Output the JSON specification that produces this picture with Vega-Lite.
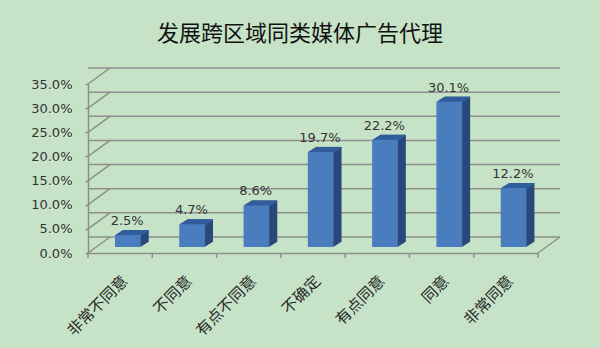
{
  "$schema": "https://vega.github.io/schema/vega-lite/v6.json",
  "autosize": {"type": "none"},
  "width": 450,
  "height": 169,
  "padding": {"left": 88, "top": 84, "right": 62, "bottom": 95},
  "background": "#C7E3C7",
  "config": {"view": {"stroke": null}},
  "title": {"text": "发展跨区域同类媒体广告代理", "font": "Noto Sans CJK SC", "fontSize": 22, "fontWeight": "normal", "color": "#111111", "anchor": "middle", "dx": -13, "offset": 21},
  "datasets": {
    "resp": [
      {"cat": "非常不同意", "v": 0.025},
      {"cat": "不同意", "v": 0.047},
      {"cat": "有点不同意", "v": 0.086},
      {"cat": "不确定", "v": 0.197},
      {"cat": "有点同意", "v": 0.222},
      {"cat": "同意", "v": 0.301},
      {"cat": "非常同意", "v": 0.122}
    ],
    "ticks": [{"t": 0}, {"t": 0.05}, {"t": 0.1}, {"t": 0.15}, {"t": 0.2}, {"t": 0.25}, {"t": 0.3}, {"t": 0.35}],
    "corner": [{"t": 0}]
  },
  "resolve": {"axis": {"y": "independent"}},
  "layer": [
    {
      "data": {"name": "ticks"},
      "mark": {"type": "rule", "color": "#8E8E8E", "strokeWidth": 1.5, "xOffset": 22, "x2Offset": 22, "yOffset": -16},
      "encoding": {
        "y": {"field": "t", "type": "quantitative", "title": null,
          "scale": {"domain": [0, 0.35], "nice": false, "zero": true},
          "axis": {"title": null, "values": [0, 0.05, 0.1, 0.15, 0.2, 0.25, 0.3, 0.35], "format": ".1%", "grid": false, "labelOverlap": false,
            "labelFont": "DejaVu Sans", "labelFontSize": 13, "labelColor": "#333333", "labelPadding": 13,
            "tickColor": "#8E8E8E", "tickSize": 3, "tickWidth": 1.5, "domainColor": "#8E8E8E", "domainWidth": 1.5}}
      }
    },
    {
      "data": {"name": "ticks"},
      "mark": {"type": "rule", "color": "#8E8E8E", "strokeWidth": 1.5, "x2Offset": 22, "y2Offset": -16},
      "encoding": {
        "x": {"value": 0},
        "x2": {"value": 0},
        "y": {"field": "t", "type": "quantitative", "title": null, "axis": null},
        "y2": {"field": "t"}
      }
    },
    {
      "data": {"name": "corner"},
      "mark": {"type": "rule", "color": "#8E8E8E", "strokeWidth": 1.5, "x2Offset": 22, "y2Offset": -16},
      "encoding": {
        "x": {"value": 450},
        "x2": {"value": 450},
        "y": {"field": "t", "type": "quantitative", "title": null, "axis": null},
        "y2": {"field": "t"}
      }
    },
    {
      "data": {"name": "corner"},
      "mark": {"type": "rule", "color": "#8E8E8E", "strokeWidth": 1.5, "y2Offset": 5},
      "encoding": {
        "x": {"value": 450},
        "y": {"field": "t", "type": "quantitative", "title": null, "axis": null},
        "y2": {"field": "t"}
      }
    },
    {
      "data": {"name": "resp"},
      "mark": {"type": "rule", "color": "#8E8E8E", "strokeWidth": 1.5, "y2Offset": 5},
      "encoding": {
        "x": {"field": "cat", "type": "nominal", "bandPosition": 0, "sort": null, "title": null,
          "scale": {"paddingInner": 0, "paddingOuter": 0},
          "axis": {"title": null, "labelAngle": -45, "labelFont": "Noto Sans CJK SC", "labelFontSize": 15.5, "labelColor": "#2A2A2A",
            "labelPadding": 20, "ticks": false, "domainColor": "#8E8E8E", "domainWidth": 1.5}},
        "y": {"datum": 0, "type": "quantitative", "axis": null},
        "y2": {"datum": 0}
      }
    },
    {"data": {"name": "resp"}, "mark": {"type": "bar", "color": "#29497B", "width": {"band": 0.4}, "xOffset": 15.7, "yOffset": -11, "y2Offset": -11},
      "encoding": {"x": {"field": "cat", "type": "nominal", "sort": null, "title": null}, "y": {"field": "v", "type": "quantitative", "title": null, "axis": null}}},
    {"data": {"name": "resp"}, "mark": {"type": "bar", "color": "#29497B", "width": {"band": 0.4}, "xOffset": 14.7, "yOffset": -10.375, "y2Offset": -10.375},
      "encoding": {"x": {"field": "cat", "type": "nominal", "sort": null, "title": null}, "y": {"field": "v", "type": "quantitative", "title": null, "axis": null}}},
    {"data": {"name": "resp"}, "mark": {"type": "bar", "color": "#29497B", "width": {"band": 0.4}, "xOffset": 13.7, "yOffset": -9.75, "y2Offset": -9.75},
      "encoding": {"x": {"field": "cat", "type": "nominal", "sort": null, "title": null}, "y": {"field": "v", "type": "quantitative", "title": null, "axis": null}}},
    {"data": {"name": "resp"}, "mark": {"type": "bar", "color": "#29497B", "width": {"band": 0.4}, "xOffset": 12.7, "yOffset": -9.125, "y2Offset": -9.125},
      "encoding": {"x": {"field": "cat", "type": "nominal", "sort": null, "title": null}, "y": {"field": "v", "type": "quantitative", "title": null, "axis": null}}},
    {"data": {"name": "resp"}, "mark": {"type": "bar", "color": "#29497B", "width": {"band": 0.4}, "xOffset": 11.7, "yOffset": -8.5, "y2Offset": -8.5},
      "encoding": {"x": {"field": "cat", "type": "nominal", "sort": null, "title": null}, "y": {"field": "v", "type": "quantitative", "title": null, "axis": null}}},
    {"data": {"name": "resp"}, "mark": {"type": "bar", "color": "#29497B", "width": {"band": 0.4}, "xOffset": 10.7, "yOffset": -7.875, "y2Offset": -7.875},
      "encoding": {"x": {"field": "cat", "type": "nominal", "sort": null, "title": null}, "y": {"field": "v", "type": "quantitative", "title": null, "axis": null}}},
    {"data": {"name": "resp"}, "mark": {"type": "bar", "color": "#29497B", "width": {"band": 0.4}, "xOffset": 9.7, "yOffset": -7.25, "y2Offset": -7.25},
      "encoding": {"x": {"field": "cat", "type": "nominal", "sort": null, "title": null}, "y": {"field": "v", "type": "quantitative", "title": null, "axis": null}}},
    {"data": {"name": "resp"}, "mark": {"type": "bar", "color": "#29497B", "width": {"band": 0.4}, "xOffset": 8.7, "yOffset": -6.625, "y2Offset": -6.625},
      "encoding": {"x": {"field": "cat", "type": "nominal", "sort": null, "title": null}, "y": {"field": "v", "type": "quantitative", "title": null, "axis": null}}},
    {"data": {"name": "resp"}, "mark": {"type": "bar", "color": "#325E9C", "width": {"band": 0.4}, "xOffset": 15.7, "yOffset": -11, "y2Offset": -9.6},
      "encoding": {"x": {"field": "cat", "type": "nominal", "sort": null, "title": null}, "y": {"field": "v", "type": "quantitative", "title": null, "axis": null}, "y2": {"field": "v"}}},
    {"data": {"name": "resp"}, "mark": {"type": "bar", "color": "#325E9C", "width": {"band": 0.4}, "xOffset": 14.7, "yOffset": -10.375, "y2Offset": -8.975},
      "encoding": {"x": {"field": "cat", "type": "nominal", "sort": null, "title": null}, "y": {"field": "v", "type": "quantitative", "title": null, "axis": null}, "y2": {"field": "v"}}},
    {"data": {"name": "resp"}, "mark": {"type": "bar", "color": "#325E9C", "width": {"band": 0.4}, "xOffset": 13.7, "yOffset": -9.75, "y2Offset": -8.35},
      "encoding": {"x": {"field": "cat", "type": "nominal", "sort": null, "title": null}, "y": {"field": "v", "type": "quantitative", "title": null, "axis": null}, "y2": {"field": "v"}}},
    {"data": {"name": "resp"}, "mark": {"type": "bar", "color": "#325E9C", "width": {"band": 0.4}, "xOffset": 12.7, "yOffset": -9.125, "y2Offset": -7.725},
      "encoding": {"x": {"field": "cat", "type": "nominal", "sort": null, "title": null}, "y": {"field": "v", "type": "quantitative", "title": null, "axis": null}, "y2": {"field": "v"}}},
    {"data": {"name": "resp"}, "mark": {"type": "bar", "color": "#325E9C", "width": {"band": 0.4}, "xOffset": 11.7, "yOffset": -8.5, "y2Offset": -7.1},
      "encoding": {"x": {"field": "cat", "type": "nominal", "sort": null, "title": null}, "y": {"field": "v", "type": "quantitative", "title": null, "axis": null}, "y2": {"field": "v"}}},
    {"data": {"name": "resp"}, "mark": {"type": "bar", "color": "#325E9C", "width": {"band": 0.4}, "xOffset": 10.7, "yOffset": -7.875, "y2Offset": -6.475},
      "encoding": {"x": {"field": "cat", "type": "nominal", "sort": null, "title": null}, "y": {"field": "v", "type": "quantitative", "title": null, "axis": null}, "y2": {"field": "v"}}},
    {"data": {"name": "resp"}, "mark": {"type": "bar", "color": "#325E9C", "width": {"band": 0.4}, "xOffset": 9.7, "yOffset": -7.25, "y2Offset": -5.85},
      "encoding": {"x": {"field": "cat", "type": "nominal", "sort": null, "title": null}, "y": {"field": "v", "type": "quantitative", "title": null, "axis": null}, "y2": {"field": "v"}}},
    {"data": {"name": "resp"}, "mark": {"type": "bar", "color": "#325E9C", "width": {"band": 0.4}, "xOffset": 8.7, "yOffset": -6.625, "y2Offset": -5.225},
      "encoding": {"x": {"field": "cat", "type": "nominal", "sort": null, "title": null}, "y": {"field": "v", "type": "quantitative", "title": null, "axis": null}, "y2": {"field": "v"}}},
    {"data": {"name": "resp"}, "mark": {"type": "bar", "color": "#4A7DBE", "width": {"band": 0.4}, "xOffset": 7.7, "yOffset": -6, "y2Offset": -6},
      "encoding": {"x": {"field": "cat", "type": "nominal", "sort": null, "title": null}, "y": {"field": "v", "type": "quantitative", "title": null, "axis": null}}},
    {"data": {"name": "resp"}, "mark": {"type": "text", "font": "DejaVu Sans", "fontSize": 13, "color": "#333333", "align": "center", "baseline": "alphabetic", "dx": 7, "dy": -16},
      "encoding": {"x": {"field": "cat", "type": "nominal", "sort": null, "title": null}, "y": {"field": "v", "type": "quantitative", "title": null, "axis": null}, "text": {"field": "v", "type": "quantitative", "format": ".1%"}}}
  ]
}
